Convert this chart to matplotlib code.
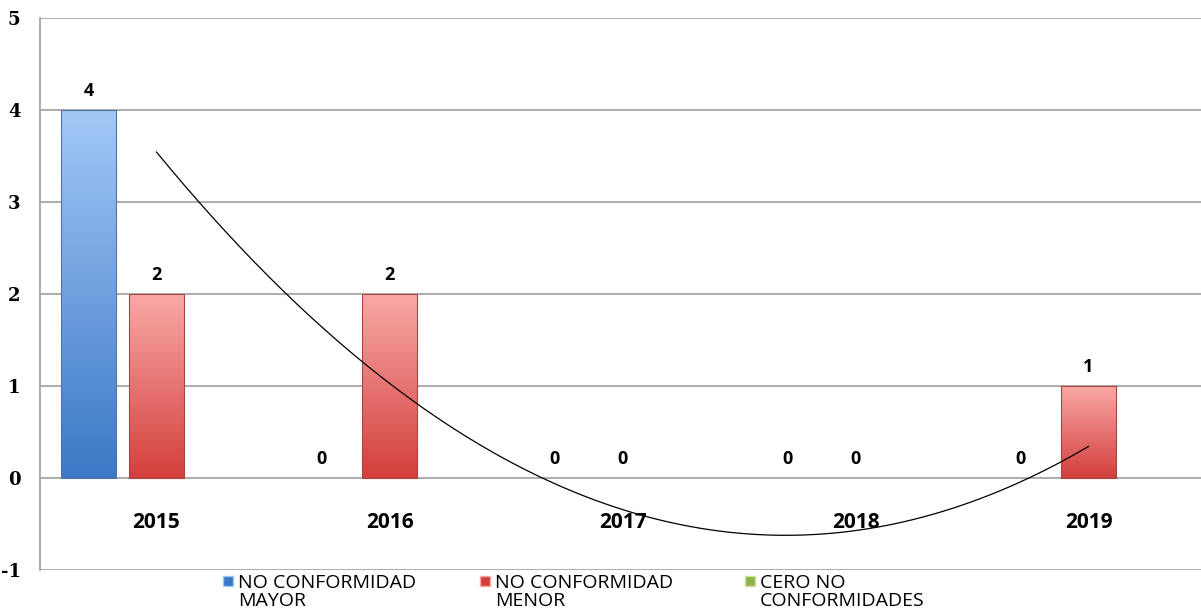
import numpy as np
import matplotlib.pyplot as plt
from matplotlib.colors import LinearSegmentedColormap
from matplotlib.patches import Rectangle

plt.rcParams['axes.unicode_minus'] = False

# datos
years = ['2015', '2016', '2017', '2018', '2019']
nc_mayor = [4, 0, 0, 0, 0]
nc_menor = [2, 2, 0, 0, 1]
cero_nc = [0, 0, 0, 0, 0]
series_names = ['NO CONFORMIDAD\nMAYOR', 'NO CONFORMIDAD\nMENOR', 'CERO NO\nCONFORMIDADES']

colors = {
    'mayor': ('#a3c8f7', '#3b78c6'),
    'menor': ('#f9a9a7', '#d33f3c'),
    'cero': ('#cfe3a0', '#8db24e'),
}

fig = plt.figure(figsize=(12.01, 6.16), dpi=100)
ax = fig.add_axes([40 / 1201, 1 - 570 / 616, 1165 / 1201, 552 / 616])

x = np.arange(len(years))
w = 0.236
off = 0.292


def gradient_bars(bars, top, bottom, edge):
    cmap = LinearSegmentedColormap.from_list('g', [bottom, top])
    grad = np.linspace(0, 1, 256).reshape(-1, 1)
    for b in bars:
        if b.get_height() == 0:
            b.set_visible(False)
            continue
        b.set_edgecolor(edge)
        b.set_linewidth(0.8)
        x0, y0 = b.get_x(), b.get_y()
        im = ax.imshow(grad, cmap=cmap, origin='lower', aspect='auto',
                       extent=(x0, x0 + b.get_width(), y0, y0 + b.get_height()),
                       zorder=2)
        im.set_clip_path(b)


b1 = ax.bar(x - off, nc_mayor, w, color=colors['mayor'][1], zorder=3)
b2 = ax.bar(x, nc_menor, w, color=colors['menor'][1], zorder=3)
b3 = ax.bar(x + off, cero_nc, w, color=colors['cero'][1], zorder=3)
for bars, key, edge in [(b1, 'mayor', '#4f74a8'), (b2, 'menor', '#a84442'), (b3, 'cero', '#7a9a40')]:
    for b in bars:
        b.set_facecolor('none')
    gradient_bars(bars, *colors[key], edge)

# etiquetas de datos (mayor y menor)
for bars, vals in [(b1, nc_mayor), (b2, nc_menor)]:
    for b, v in zip(bars, vals):
        ax.annotate(str(v), (b.get_x() + b.get_width() / 2, v), xytext=(0, 7),
                    textcoords='offset points', ha='center', va='bottom',
                    fontsize=13, fontweight='bold', family='Open Sans', zorder=5)

# linea de tendencia polinomica (orden 2) de la serie mayor
coef = np.polyfit(x, nc_mayor, 2)
xt = np.linspace(0, 4, 200)
ax.plot(xt, np.polyval(coef, xt), color='black', lw=0.9, zorder=4)

ax.set_xlim(-0.5, 4.5)
ax.set_ylim(-1, 5)
ax.set_yticks(range(-1, 6))
ax.set_xticks([])
ax.grid(axis='y', color='#a6a6a6', lw=1.3, zorder=0)
ax.set_axisbelow(True)
for s in ['top', 'right', 'bottom']:
    ax.spines[s].set_visible(False)
ax.spines['left'].set_color('#a6a6a6')
ax.spines['left'].set_linewidth(1.3)
ax.tick_params(axis='y', length=0, pad=14)
for lbl in ax.get_yticklabels():
    lbl.set_fontfamily('DejaVu Serif')
    lbl.set_fontweight('bold')
    lbl.set_fontsize(13)

# etiquetas de categoria
for xi, yr in zip(x, years):
    ax.text(xi, -0.48, yr, ha='center', va='center', fontsize=15,
            fontweight='bold', family='Open Sans', zorder=3)

# leyenda
leg_x = [228, 485, 750]
leg_cols = [colors['mayor'], colors['menor'], colors['cero']]
for lx, name, c in zip(leg_x, series_names, leg_cols):
    fig.patches.append(Rectangle(((lx - 5) / 1201, 1 - 586 / 616), 10 / 1201, 10 / 616,
                                 facecolor=c[1], edgecolor=c[0], lw=1,
                                 transform=fig.transFigure, figure=fig))
    fig.text((lx + 10) / 1201, 1 - 592 / 616, name, ha='left', va='center',
             fontsize=14, family='Open Sans', linespacing=1.0)

fig.savefig('out.png', dpi=100)
